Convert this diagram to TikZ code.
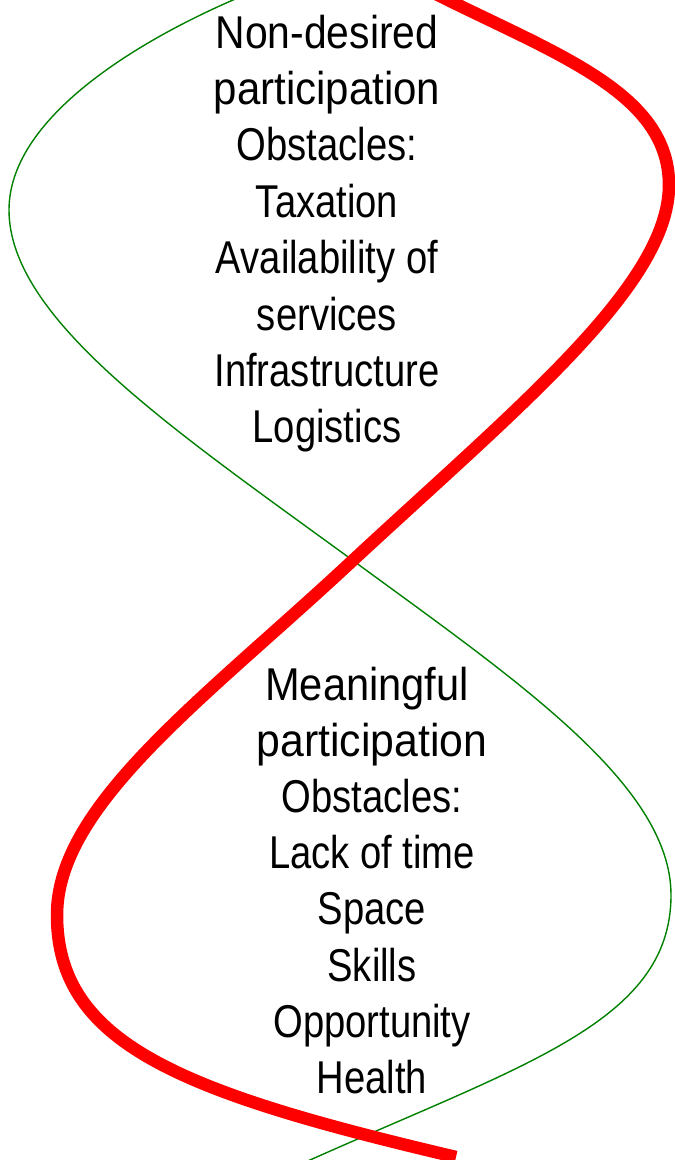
\documentclass[tikz,border=0pt]{standalone}
\usepackage{graphicx}
\usepackage{fontspec}
\setmainfont{Liberation Sans}[FakeStretch=0.83]
\definecolor{helixgreen}{RGB}{0,128,0}
\definecolor{helixred}{RGB}{255,0,0}
\tikzset{
  greenstrand/.style={draw=helixgreen, line width=1.4pt},
  redstrand/.style={draw=helixred, line width=12.5pt, line cap=butt},
  label/.style={anchor=base, inner sep=0pt, font=\fontsize{46}{56}\selectfont, text=black}
}
\begin{document}
\begin{tikzpicture}[x=1pt, y=-1pt]
\useasboundingbox (0,0) rectangle (675,1160);
\coordinate (gA) at (233,0);
\coordinate (gL) at (9,210);
\coordinate (gX) at (355,562);
\coordinate (gR) at (671,895);
\coordinate (gE) at (290,1169);
\coordinate (rA) at (405,-22);
\coordinate (rR) at (669,185);
\coordinate (rX) at (350,563);
\coordinate (rL) at (57,915);
\coordinate (rE) at (456,1157);
\begin{scope}
\clip (0,0) rectangle (675,1160);
\draw[greenstrand] (300,-29) -- (gA)
  .. controls (132,44) and (9,120) .. (gL)
  .. controls (9,320) and (177,432) .. (gX)
  .. controls (516,680) and (671,785) .. (gR)
  .. controls (671,1025) and (517,1066) .. (gE);
\draw[redstrand] (rA)
  .. controls (537,48.5) and (669,85) .. (rR)
  .. controls (669,285) and (518,407) .. (rX)
  .. controls (204,699) and (57,805) .. (rL)
  .. controls (57,1045) and (184,1093) .. (rE);
\end{scope}
\foreach \t/\s/\dx [count=\i from 0] in {Non-desired/1.07/0,participation/1.1/0,Obstacles:/1/0,Taxation/1/0,Availability of/1/0,services/1/0,Infrastructure/1/0,Logistics/1/0}
  \node[label] (top\i) at ({327+\dx},{48+56.4*\i}) {\scalebox{\s}[1]{\t}};
\foreach \t/\s/\dx [count=\i from 0] in {Meaningful/1.09/-5,participation/1.12/0,Obstacles:/1/0,Lack of time/1/0,Space/1/0,Skills/1/0,Opportunity/1/0,Health/1/0}
  \node[label] (bot\i) at ({372+\dx},{700+56.2*\i}) {\scalebox{\s}[1]{\t}};
\end{tikzpicture}
\end{document}
